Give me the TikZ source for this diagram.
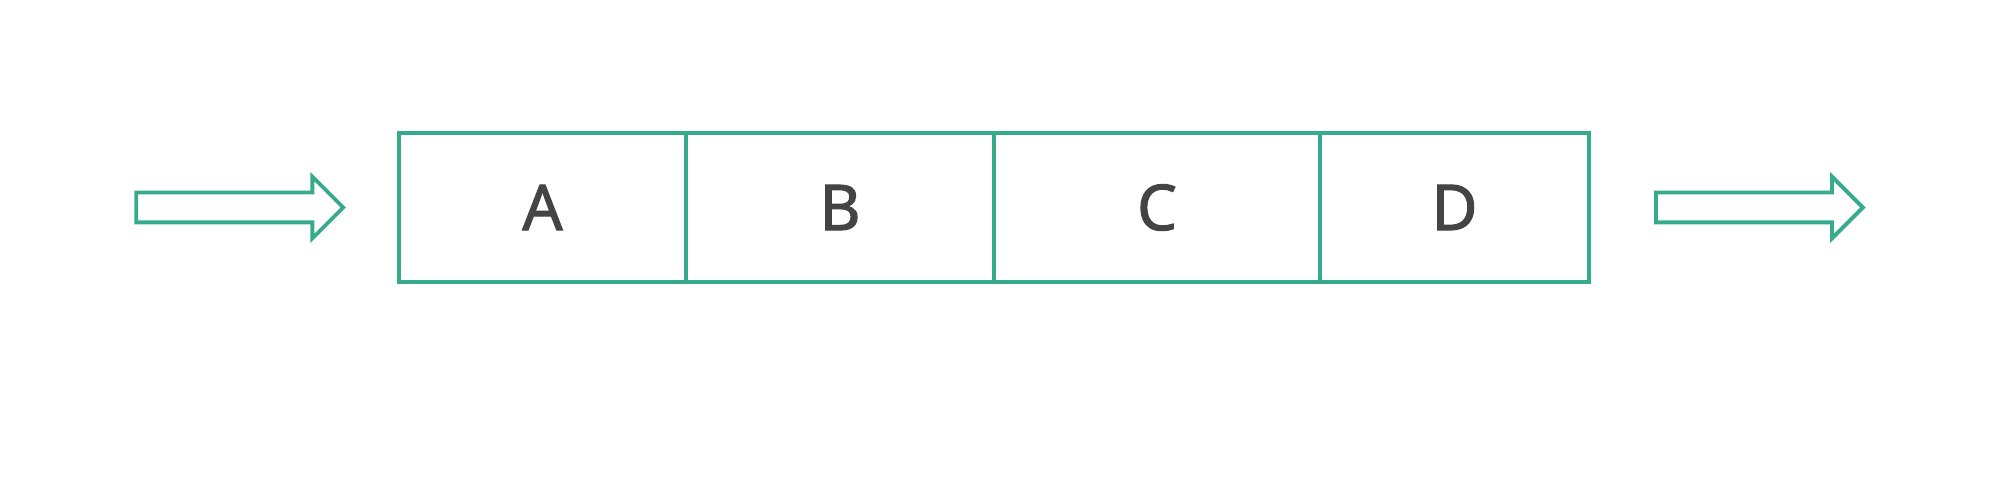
\documentclass[tikz,border=0pt]{standalone}
\usepackage{fontspec}
\setmainfont{Noto Sans}
\newfontfamily\cellfont[FakeBold=1.6]{Noto Sans}
\usepackage{xcolor}
\usetikzlibrary{shapes.arrows, positioning}
\definecolor{queuegreen}{HTML}{36AB8C}
\definecolor{labelgray}{HTML}{444444}

\begin{document}
\begin{tikzpicture}[
    node distance=0cm,
    cell/.style={rectangle, draw=queuegreen, line width=1.1pt, minimum height=1.49cm, outer sep=0pt, inner sep=0pt, font=\cellfont\fontsize{18}{20}\selectfont, text=labelgray},
    flowarrow/.style={single arrow, draw=queuegreen, line width=1.1pt, fill=white, minimum height=2.07cm, inner sep=0.13cm, single arrow head extend=0.16cm, single arrow tip angle=90, single arrow head indent=0pt}
]
\useasboundingbox (0,0) rectangle (20,4.79);

% Queue cells
\node[cell, minimum width=2.87cm, anchor=west] (a) at (3.99,2.715) {A};
\node[cell, minimum width=3.08cm, right=of a] (b) {B};
\node[cell, minimum width=3.26cm, right=of b] (c) {C};
\node[cell, minimum width=2.69cm, right=of c] (d) {D};

% Entry and exit arrows
\node[flowarrow, left=0.53cm of a] (enter) {};
\node[flowarrow, right=0.65cm of d] (leave) {};

\end{tikzpicture}
\end{document}
